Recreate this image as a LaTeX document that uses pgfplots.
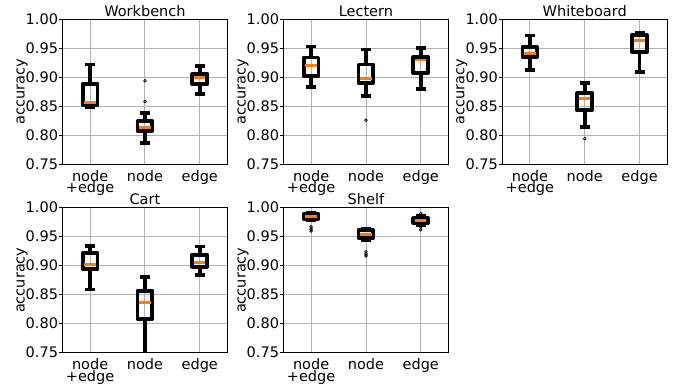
\documentclass[border=0pt]{standalone}
\usepackage{fontspec}
\setmainfont{DejaVu Sans}
\usepackage{pgfplots}
\pgfplotsset{compat=1.18}
\usepgfplotslibrary{statistics}
\definecolor{medc}{HTML}{FF7F0E}
\newcommand{\fs}{\fontsize{14.5}{11.3}\selectfont}
\pgfplotsset{
  panel/.style={
    scale only axis, width=164.5pt, height=145pt,
    anchor=south west,
    xmin=0.5, xmax=3.5, ymin=0.75, ymax=1.0,
    xtick={1,2,3}, xticklabels={{node\\+edge},node,edge},
    ytick={0.75,0.80,0.85,0.90,0.95,1.00},
    y tick label style={/pgf/number format/fixed, /pgf/number format/fixed zerofill, /pgf/number format/precision=2, /pgf/number format/assume math mode=true, inner sep=1pt},
    grid=major, grid style={color=black!30, line width=0.9pt},
    axis line style={black, line width=0.9pt},
    tick align=outside, ytick pos=left, major tick length=3.5pt,
    xtick style={draw=none}, ytick style={black, line width=0.9pt},
    every tick label/.append style={font=\fs},
    x tick label style={align=center, anchor=north, inner sep=0pt, yshift=-2.5pt},
    every axis title shift=0pt,
    title style={font=\fs, at={(0.5,1)}, anchor=base, inner sep=0pt, yshift=3.3pt},
    every axis y label/.style={at={(axis description cs:-0.232,0.5)}, rotate=90, anchor=base, font=\fs, inner sep=0pt},
    ylabel={accuracy},
  },
  bx/.style={black, solid, line width=3.8pt, line join=round,
    mark=o, mark options={black, solid, line width=0.8pt, mark size=1.4pt},
    boxplot/draw/median/.code={\draw[medc, line width=2.7pt]
      (boxplot box cs:\pgfplotsboxplotvalue{median},0.12) --
      (boxplot box cs:\pgfplotsboxplotvalue{median},0.88);}},
  bp/.style={boxplot prepared={draw direction=y, box extend=0.27, whisker extend=0.18, #1}},
}
\begin{document}
\begin{tikzpicture}
\path[use as bounding box] (0,0) rectangle (675pt,-385pt);
% Workbench
\begin{axis}[panel, at={(62.7pt,-164.3pt)}, title={Workbench}]
\addplot[bx, bp={draw position=1, lower whisker=0.849, lower quartile=0.852, median=0.856, upper quartile=0.889, upper whisker=0.922}] coordinates {};
\addplot[bx, bp={draw position=2, lower whisker=0.787, lower quartile=0.808, median=0.813, upper quartile=0.824, upper whisker=0.838}] table[row sep=\\,y index=0] {data\\ 0.894\\ 0.858\\};
\addplot[bx, bp={draw position=3, lower whisker=0.871, lower quartile=0.888, median=0.8995, upper quartile=0.906, upper whisker=0.919}] coordinates {};
\end{axis}
% Lectern
\begin{axis}[panel, at={(283.7pt,-164.3pt)}, title={Lectern}]
\addplot[bx, bp={draw position=1, lower whisker=0.883, lower quartile=0.902, median=0.920, upper quartile=0.934, upper whisker=0.953}] coordinates {};
\addplot[bx, bp={draw position=2, lower whisker=0.868, lower quartile=0.890, median=0.898, upper quartile=0.922, upper whisker=0.948}] table[row sep=\\,y index=0] {data\\ 0.826\\};
\addplot[bx, bp={draw position=3, lower whisker=0.880, lower quartile=0.908, median=0.930, upper quartile=0.935, upper whisker=0.950}] coordinates {};
\end{axis}
% Whiteboard
\begin{axis}[panel, at={(502.5pt,-164.3pt)}, title={Whiteboard}]
\addplot[bx, bp={draw position=1, lower whisker=0.912, lower quartile=0.935, median=0.941, upper quartile=0.952, upper whisker=0.972}] coordinates {};
\addplot[bx, bp={draw position=2, lower whisker=0.814, lower quartile=0.843, median=0.863, upper quartile=0.873, upper whisker=0.890}] table[row sep=\\,y index=0] {data\\ 0.794\\};
\addplot[bx, bp={draw position=3, lower whisker=0.909, lower quartile=0.943, median=0.964, upper quartile=0.973, upper whisker=0.977}] coordinates {};
\end{axis}
% Cart
\begin{axis}[panel, at={(62.7pt,-352.7pt)}, title={Cart}]
\addplot[bx, bp={draw position=1, lower whisker=0.859, lower quartile=0.894, median=0.902, upper quartile=0.922, upper whisker=0.934}] coordinates {};
\addplot[bx, bp={draw position=2, lower whisker=0.720, lower quartile=0.808, median=0.836, upper quartile=0.857, upper whisker=0.881}] coordinates {};
\addplot[bx, bp={draw position=3, lower whisker=0.884, lower quartile=0.898, median=0.905, upper quartile=0.919, upper whisker=0.933}] coordinates {};
\end{axis}
% Shelf
\begin{axis}[panel, at={(283.7pt,-352.7pt)}, title={Shelf}]
\addplot[bx, bp={draw position=1, lower whisker=0.979, lower quartile=0.981, median=0.985, upper quartile=0.989, upper whisker=0.991}] table[row sep=\\,y index=0] {data\\ 0.967\\ 0.963\\ 0.960\\};
\addplot[bx, bp={draw position=2, lower whisker=0.945, lower quartile=0.948, median=0.954, upper quartile=0.961, upper whisker=0.963}] table[row sep=\\,y index=0] {data\\ 0.924\\ 0.920\\ 0.917\\};
\addplot[bx, bp={draw position=3, lower whisker=0.970, lower quartile=0.974, median=0.978, upper quartile=0.982, upper whisker=0.986}] table[row sep=\\,y index=0] {data\\ 0.990\\ 0.967\\ 0.962\\};
\end{axis}
\end{tikzpicture}
\end{document}
